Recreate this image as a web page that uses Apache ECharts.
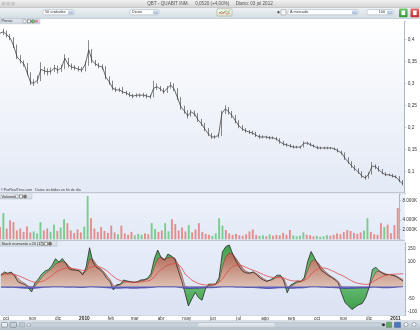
<!DOCTYPE html>
<html><head><meta charset="utf-8">
<script src="https://cdn.jsdelivr.net/npm/echarts@6.0.0/dist/echarts.min.js"></script>
<style>html,body{margin:0;padding:0;background:#fff;overflow:hidden}#chart{width:420px;height:330px}</style>
</head><body><div id="chart"></div>
<script>
// ---------------- data ----------------
const sampleStart = '2009-09-25';
const sampleStepDays = 4;
const axisStart = '2009-09-25';
const axisEnd = '2011-01-12';
const monthTickDates = ['2009-10-01','2009-11-01','2009-12-01','2010-01-01','2010-02-01','2010-03-01','2010-04-01','2010-05-01','2010-06-01','2010-07-01','2010-08-01','2010-09-01','2010-10-01','2010-11-01','2010-12-01','2011-01-01'];
const monthTickLabels = ['oct','nov','dic','2010','feb','mar','abr','may','jun','jul','ago','sep','oct','nov','dic','2011'];

const priceOpen = [.418,.414,.417,.410,.403,.385,.360,.351,.344,.323,
 .301,.301,.307,.332,.328,.326,.328,.335,.330,.335,
 .357,.342,.337,.335,.332,.330,.344,.376,.351,.344,
 .339,.337,.314,.303,.289,.285,.285,.280,.278,.273,
 .271,.273,.273,.273,.271,.269,.289,.292,.287,.280,
 .289,.296,.287,.267,.246,.237,.226,.235,.230,.217,
 .208,.196,.185,.178,.178,.182,.232,.242,.235,.226,
 .214,.203,.196,.192,.189,.187,.182,.178,.178,.178,
 .176,.176,.173,.167,.162,.160,.157,.155,.155,.155,
 .164,.164,.160,.157,.153,.153,.153,.153,.153,.151,
 .146,.142,.130,.121,.112,.105,.098,.089,.085,.094,
 .112,.110,.103,.096,.092,.092,.089,.087,.078];
const priceClose = [.414,.417,.410,.403,.385,.360,.351,.344,.323,.301,
 .301,.307,.332,.328,.326,.328,.335,.330,.335,.357,
 .342,.337,.335,.332,.330,.344,.376,.351,.344,.339,
 .337,.314,.303,.289,.285,.285,.280,.278,.273,.271,
 .273,.273,.273,.271,.269,.289,.292,.287,.280,.289,
 .296,.287,.267,.246,.237,.226,.235,.230,.217,.208,
 .196,.185,.178,.178,.182,.232,.242,.235,.226,.214,
 .203,.196,.192,.189,.187,.182,.178,.178,.178,.176,
 .176,.173,.167,.162,.160,.157,.155,.155,.155,.164,
 .164,.160,.157,.153,.153,.153,.153,.153,.151,.146,
 .142,.130,.121,.112,.105,.098,.089,.085,.094,.112,
 .110,.103,.096,.092,.092,.089,.087,.078,.071];
const priceLow = [.408,.410,.404,.398,.380,.355,.345,.338,.318,.296,
 .294,.299,.305,.320,.318,.320,.326,.322,.326,.332,
 .336,.331,.330,.327,.325,.327,.340,.346,.339,.334,
 .331,.309,.297,.284,.280,.280,.276,.273,.269,.266,
 .268,.268,.268,.266,.265,.268,.285,.282,.276,.278,
 .288,.282,.262,.240,.231,.220,.224,.225,.212,.203,
 .191,.180,.174,.174,.176,.180,.230,.229,.221,.209,
 .198,.192,.188,.185,.183,.178,.174,.175,.174,.172,
 .173,.170,.163,.158,.156,.154,.152,.152,.151,.154,
 .160,.157,.154,.150,.150,.150,.150,.150,.148,.143,
 .138,.126,.117,.108,.101,.094,.085,.081,.083,.092,
 .105,.099,.093,.089,.089,.086,.084,.075,.068];
const priceHigh = [.425,.424,.420,.412,.405,.388,.364,.352,.346,.325,
 .309,.318,.348,.338,.334,.336,.342,.340,.342,.366,
 .358,.345,.341,.339,.337,.350,.398,.378,.353,.346,
 .343,.339,.316,.306,.291,.290,.292,.283,.280,.276,
 .277,.277,.278,.276,.274,.306,.300,.294,.289,.294,
 .303,.300,.289,.269,.249,.239,.240,.238,.232,.219,
 .210,.198,.187,.182,.186,.238,.250,.246,.237,.228,
 .216,.205,.198,.194,.192,.190,.184,.182,.181,.180,
 .179,.178,.175,.169,.164,.162,.159,.158,.158,.168,
 .167,.165,.161,.158,.156,.156,.156,.155,.154,.152,
 .147,.143,.132,.123,.114,.107,.100,.091,.098,.121,
 .116,.112,.105,.098,.095,.094,.091,.089,.080];
const volumeK = [2500,5400,2200,3900,3500,1800,2200,1500,2600,1400,
 1600,1200,3500,1800,2200,1500,3000,1700,2400,4100,
 3300,1800,1300,2000,1400,2600,8900,4300,2200,1500,
 2500,1700,1300,2800,1400,1000,2800,1200,900,1500,
 800,1100,900,1200,1000,3300,2100,1500,1800,3300,
 1600,4100,3100,1800,2400,1600,2900,1400,2000,3300,
 1500,1100,900,700,1200,4300,2800,1900,1200,900,
 1100,800,700,1000,1600,2000,900,700,800,600,
 1000,700,900,800,1300,900,1900,800,600,700,
 1400,900,800,600,700,500,600,800,700,900,
 1200,1000,1500,1900,1700,1300,1100,1400,1800,4300,
 1500,1000,900,3300,2500,3000,1200,2900,6420];
const smiMain = [46,58,53,58,42,19,12,8,-5,-22,
 15,30,50,62,68,85,111,98,112,94,
 70,66,66,62,46,78,155,97,76,68,
 55,33,20,-14,7,9,26,22,19,16,
 19,26,27,33,50,110,146,115,105,130,
 122,110,65,24,-25,-78,-50,-24,-45,-55,
 -10,10,9,10,35,139,160,166,130,100,
 78,60,54,53,59,48,34,26,20,26,
 34,45,45,22,-25,6,13,22,20,36,
 100,140,115,88,64,55,44,36,27,14,
 -30,-65,-78,-92,-82,-73,-68,-45,-5,68,
 77,62,52,47,48,45,40,30,22];
const smiSmooth = [44,50,52,54,48,32,20,12,2,-3,
 2,18,36,52,62,72,90,96,100,96,
 80,70,66,63,54,60,110,108,88,74,
 62,45,28,2,4,6,16,20,20,18,
 18,22,25,29,40,78,112,118,110,114,
 118,114,88,50,0,-4,-4,-3,-4,-4,
 -3,2,4,8,20,80,120,135,130,112,
 92,72,60,55,56,52,42,32,24,24,
 29,38,42,32,-2,0,8,16,19,27,
 65,100,106,96,78,62,50,40,31,20,
 -3,-4,-4,-4,-4,-4,-4,-4,-2,30,
 58,62,56,50,48,46,42,35,28];
const smiSignal = [50,50,50,50,48,44,38,32,26,20,
 17,17,20,26,34,44,56,64,70,74,
 74,72,70,68,64,64,76,80,80,78,
 72,64,52,40,30,24,20,18,17,17,
 17,18,20,22,26,38,56,68,78,86,
 90,92,88,76,50,38,26,18,12,8,
 6,6,8,10,16,30,50,68,80,86,
 86,82,76,70,65,60,54,48,42,38,
 36,36,36,34,28,24,22,22,22,24,
 34,50,62,70,74,74,70,64,58,50,
 45,38,30,22,16,12,10,8,10,18,
 26,34,40,45,48,49,50,50,51.381];
const smiLow = [-3,-3,-4,-3,-4,-5,-6,-7,-7,-8,
 -7,-6,-4,-3,-3,-2,-2,-2,-2,-3,
 -3,-3,-3,-4,-4,-3,-2,-2,-3,-3,
 -4,-5,-6,-7,-7,-7,-6,-6,-7,-7,
 -7,-6,-6,-5,-4,-3,-2,-2,-2,-2,
 -2,-2,-3,-5,-7,-8,-8,-7,-7,-6,
 -5,-5,-5,-4,-3,-2,-2,-2,-2,-3,
 -3,-3,-4,-4,-4,-5,-6,-7,-8,-8,
 -7,-6,-5,-5,-6,-7,-7,-6,-6,-5,
 -3,-2,-2,-2,-3,-3,-4,-4,-5,-6,
 -7,-8,-8,-7,-7,-6,-6,-6,-5,-3,
 -3,-4,-5,-5,-5,-4,-3,-2,-1.2547];
const priceAxisLabels = [0.1,0.15,0.2,0.25,0.3,0.35,0.4];
const volumeAxisLabels = [2000,4000,8000];
const smiAxisLabels = [150,100,-50,-100];

// ---------------- build ----------------
const DAY = 86400000;
const t0 = Date.parse(sampleStart);
const dates = priceClose.map((_, i) => t0 + i * sampleStepDays * DAY);
const monthTs = monthTickDates.map(d => Date.parse(d));
const FONT = 'Liberation Sans';

function fmtMonth(v) {
  let best = -1, bd = Infinity;
  monthTs.forEach((t, k) => { const d = Math.abs(t - v); if (d < bd) { bd = d; best = k; } });
  if (best < 0 || bd > 2 * DAY) return '';
  const s = monthTickLabels[best];
  return /^\d{4}$/.test(s) ? '{y|' + s + '}' : s;
}
const near = (v, arr) => arr.some(a => Math.abs(a - v) < 1e-6);

function lg(c1, c2) { return {type:'linear', x:0, y:0, x2:0, y2:1, colorStops:[{offset:0,color:c1},{offset:1,color:c2}]}; }
function R(x, y, w, h, fill, ex) { ex = ex || {}; return {type:'rect', shape:{x, y, width:w, height:h, r:ex.r||0}, style:Object.assign({fill}, ex.style||{}), z:ex.z!=null?ex.z:-1, silent:true}; }
function T(text, x, y, size, fill, ex) { ex = ex || {}; return {type:'text', z:ex.z||60, silent:true, style:Object.assign({text, x, y, fill, font:(ex.fw||'normal')+' '+size+'px "'+FONT+'"', verticalAlign:'middle', align:'left'}, ex.style||{})}; }
function C(cx, cy, r, fill, stroke, z) { return {type:'circle', shape:{cx, cy, r}, style:{fill, stroke, lineWidth:0.4}, z:z||60, silent:true}; }
function dropBox(x, y, w, h, label, alignRight) {
  return [
    R(x, y, w, h, '#ffffff', {r:1.5, z:55, style:{stroke:'#9aa9b6', lineWidth:0.5}}),
    R(x + w - 6, y + 0.6, 5.4, h - 1.2, lg('#d6e3f1','#9fb8d4'), {r:1.2, z:56}),
    T(label, alignRight ? x + w - 8 : x + 2, y + h / 2, 3.8, '#333', alignRight ? {style:{align:'right'}} : null)
  ];
}
function tab(x, y, w, label) {
  const els = [R(x, y, w, 5, lg('#e8edf1','#cdd6de'), {z:55, style:{stroke:'#a9b5bf', lineWidth:0.4}}), T(label, x + 1.5, y + 2.6, 3.8, '#333')];
  const ix = x + w - 17;
  els.push(R(ix, y + 1, 3, 3, '#ffffff', {z:57, style:{stroke:'#666', lineWidth:0.4}}));
  els.push(R(ix + 4.5, y + 1, 3, 3, '#ffffff', {z:57, style:{stroke:'#444', lineWidth:0.5}}));
  els.push(C(ix + 10, y + 2.5, 1.6, '#777', '#444', 57));
  return els;
}

const graphics = [].concat(
  [R(0, 18.5, 405, 173.5, lg('#ffffff','#e3eaf5'))],
  [R(0, 193.3, 405, 46.5, lg('#edf2fa','#e3eaf6'))],
  [R(0, 240.8, 405, 74.4, lg('#e7edf9','#dbe3f4'))],
  [R(0, 191.9, 405, 1.4, '#bfc8d1', {z:1})],
  [R(0, 239.7, 405, 1.2, '#bfc8d1', {z:1})],
  [R(0, 0, 420, 7.2, lg('#f1f1f1','#d5d5d5'), {z:50})],
  [R(0, 7.0, 420, 0.4, '#9d9d9d', {z:51})],
  [C(3.5, 3.6, 1.6, '#d0d0d0', '#a5a5a5'), C(8.2, 3.6, 1.6, '#d0d0d0', '#a5a5a5'), C(12.9, 3.6, 1.6, '#d0d0d0', '#a5a5a5')],
  [T('QBT - QUABIT INM.     0,0520 (+4,00%)     Diario: 03 jul 2012', 210, 3.7, 4.6, '#555', {style:{align:'center'}})],
  [R(0, 7.4, 420, 11.1, lg('#eef2f5','#d3dce3'), {z:50})],
  [R(0, 18.3, 420, 0.4, '#a6b2bc', {z:51})],
  dropBox(43, 9.6, 31, 5.2, '50 unidades'),
  dropBox(130, 9.6, 29, 5.2, 'Diario'),
  [R(217, 8.8, 15, 7.2, lg('#fbfbf2','#e4e6d6'), {z:55, r:1, style:{stroke:'#8a9a7a', lineWidth:0.5}}),
   {type:'polyline', shape:{points:[[219,14],[221.5,11.5],[223.5,13],[226,10.5],[228,12.5],[230,10]]}, style:{stroke:'#3a9a3a', lineWidth:0.6, fill:null}, z:57, silent:true},
   {type:'polyline', shape:{points:[[219,12],[222,14],[224.5,12.2],[227,14.3],[230,13]]}, style:{stroke:'#c83a3a', lineWidth:0.6, fill:null}, z:57, silent:true}],
  [C(278.5, 12.2, 0.9, '#555', '#333'), R(281, 9.6, 5, 5.4, '#f7f7f7', {z:56, style:{stroke:'#777', lineWidth:0.4}})],
  dropBox(288, 9.6, 70, 5.2, 'A mercado'),
  dropBox(367, 9.6, 26, 5.2, '100', true),
  [R(399, 8.4, 8.6, 8.8, lg('#6cc76a','#2f9a36'), {z:55, r:1}), R(401.5, 10.5, 3.6, 4.6, '#ffffff', {z:56}),
   R(410.5, 8.4, 8.6, 8.8, lg('#ee6b6b','#c42a2a'), {z:55, r:1}), R(413, 10.5, 3.6, 4.6, '#ffffff', {z:56})],
  tab(0, 18.8, 40, 'Precio'),
  [C(36.5, 21.3, 1.3, '#e58ab0', '#b05a80', 58), C(33.3, 21.3, 1.3, '#8fd08f', '#4a9a4a', 58)],
  tab(0, 194, 32, 'Volumen'),
  tab(0, 241.2, 57, 'Stoch momento v.20 (13)'),
  [T('©ProRealTime.com   Datos recibidos en fin de día', 1, 189.6, 3.6, '#444', {style:{fontStyle:'italic'}})],
  [R(0, 320.6, 420, 9.4, lg('#dbe3e9','#b3c0ca'), {z:50}), R(0, 320.4, 420, 0.4, '#9aa7b1', {z:51})],
  [R(1.5, 322.5, 6, 4.5, '#e9eef2', {z:55, r:1, style:{stroke:'#5a6570', lineWidth:0.5}}),
   R(10, 322.3, 6.5, 5, '#c9d1d8', {z:55, r:1, style:{stroke:'#5a6570', lineWidth:0.5}}),
   R(19.5, 322.5, 5, 4.5, '#c0c8cf', {z:55, style:{stroke:'#8a959f', lineWidth:0.4}}),
   C(28.7, 324.8, 1.6, '#eef2f5', '#5a6570'),
   R(31, 322.6, 351, 4.6, '#c6d1d9', {z:54, r:2, style:{stroke:'#a3b0ba', lineWidth:0.4}}),
   R(198, 322.9, 77, 4.0, lg('#e9eef2','#d0d9e0'), {z:55, r:2}),
   C(383.5, 324.8, 1.3, '#333', '#222'),
   R(386.5, 322.2, 5, 5.2, '#6aa86a', {z:55, style:{stroke:'#3a6a3a', lineWidth:0.4}}),
   R(394.5, 322.2, 6, 5.2, '#4a78c0', {z:55, style:{stroke:'#2a4a80', lineWidth:0.4}}),
   C(406, 324.4, 2.0, '#f2f5f7', '#4a5560'), C(414, 324.4, 2.0, '#f2f5f7', '#4a5560')]
);

const areaBrown = {type:'linear', x:0, y:0, x2:0, y2:1, colorStops:[{offset:0,color:'#b06752'},{offset:1,color:'#dfc2b6'}]};
const areaGreen = {type:'linear', x:0, y:0, x2:0, y2:1, colorStops:[{offset:0,color:'#3f9e4d'},{offset:0.5,color:'#74c47f'},{offset:1,color:'#3f9e4d'}]};

const xAxes = [0,1,2].map(k => ({
  type:'value', gridIndex:k, min:Date.parse(axisStart), max:Date.parse(axisEnd),
  show: k === 2, scale:true,
  axisLine:{show:true, onZero:false, lineStyle:{color:'#b9c3cc', width:0.6}},
  axisTick:{show:false}, splitLine:{show:false},
  axisLabel:{show:k === 2, customValues:monthTs, formatter:fmtMonth, fontSize:4.6, color:'#333', margin:1.5, hideOverlap:false,
    fontFamily:FONT, rich:{y:{fontWeight:'bold', fontSize:4.8, color:'#222', fontFamily:FONT}}}
}));

const yCommon = {position:'right', splitLine:{show:false}, axisLine:{show:true, lineStyle:{color:'#8f9ba6', width:0.7}},
  axisTick:{show:true, length:1.5, lineStyle:{color:'#8f9ba6', width:0.5}}};

const option = {
  animation:false,
  backgroundColor:'#ffffff',
  textStyle:{fontFamily:FONT},
  graphic:{elements:graphics},
  grid:[
    {left:0, right:15, top:21.7, height:171.6},
    {left:0, right:15, top:194, height:45.2},
    {left:0, right:15, top:242.75, height:72.25}
  ],
  xAxis:xAxes,
  yAxis:[
    Object.assign({type:'value', gridIndex:0, min:0.05, max:0.44, interval:0.05,
      axisLabel:{fontSize:4.8, color:'#333', margin:3, fontFamily:FONT,
        formatter:v => near(v, priceAxisLabels) ? String(Math.round(v*100)/100).replace('.', ',') : ''}}, yCommon),
    Object.assign({type:'value', gridIndex:1, min:0, max:9300, interval:2000,
      axisLabel:{fontSize:4.6, color:'#333', margin:3, fontFamily:FONT,
        formatter:v => near(v, volumeAxisLabels) ? (v/1000).toFixed(3) + 'K' : ''}}, yCommon),
    Object.assign({type:'value', gridIndex:2, min:-114, max:175, splitNumber:6,
      axisLabel:{fontSize:4.6, color:'#333', margin:3, fontFamily:FONT,
        formatter:v => near(v, smiAxisLabels) ? String(v) : ''}}, yCommon)
  ],
  series:[
    {type:'line', name:'Cierre', xAxisIndex:0, yAxisIndex:0, showSymbol:false, z:1,
     data:dates.map((t,i) => [t, priceClose[i]]), lineStyle:{width:0.9, color:'#5c5c5c'}},
    {type:'candlestick', name:'Precio', xAxisIndex:0, yAxisIndex:0,
     data:dates.map((t,i) => [t, priceOpen[i], priceClose[i], priceLow[i], priceHigh[i]]),
     encode:{x:0, y:[1,2,3,4]}, barWidth:1.2,
     itemStyle:{color:'#777777', color0:'#4a4a4a', borderColor:'#3f3f3f', borderColor0:'#333333', borderWidth:0.6}},
    {type:'bar', name:'Volumen', xAxisIndex:1, yAxisIndex:1, barWidth:1.9,
     data:dates.map((t,i) => [t, volumeK[i]]),
     itemStyle:{color:p => priceClose[p.dataIndex] >= priceOpen[p.dataIndex] ? '#79cc8d' : '#e28e8e'},
     markLine:{silent:true, symbol:'none', lineStyle:{opacity:0},
       label:{position:'end', distance:1, formatter:p => (p.value/1000).toFixed(3) + 'K', fontSize:4.6, color:'#222',
         backgroundColor:'#f1e84c', padding:[1,1.5,0.5,1.5], fontFamily:FONT},
       data:[{yAxis:volumeK[volumeK.length-1]}]}},
    {type:'line', name:'SMI area', xAxisIndex:2, yAxisIndex:2, showSymbol:false, z:2,
     data:dates.map((t,i) => [t, smiMain[i]]), lineStyle:{width:0}, areaStyle:{color:areaGreen, opacity:1}},
    {type:'line', name:'SMI suavizado', xAxisIndex:2, yAxisIndex:2, showSymbol:false, z:3,
     data:dates.map((t,i) => [t, smiSmooth[i]]), lineStyle:{width:0.6, color:'#8a3e2c'}, areaStyle:{color:areaBrown, opacity:1}},
    {type:'line', name:'SMI', xAxisIndex:2, yAxisIndex:2, showSymbol:false, z:4,
     data:dates.map((t,i) => [t, smiMain[i]]), lineStyle:{width:0.8, color:'#2b2b2b'}},
    {type:'line', name:'Señal', xAxisIndex:2, yAxisIndex:2, showSymbol:false, z:5,
     data:dates.map((t,i) => [t, smiSignal[i]]), lineStyle:{width:0.8, color:'#e04a4a'},
     markLine:{silent:true, symbol:'none', lineStyle:{opacity:0},
       label:{position:'end', distance:1, formatter:p => String(p.value).replace('.', ','), fontSize:4.4, color:'#222',
         backgroundColor:'#f4f4f4', borderColor:'#9a9a9a', borderWidth:0.4, padding:[1,1,0.5,1], fontFamily:FONT},
       data:[{yAxis:smiSignal[smiSignal.length-1]}]}},
    {type:'line', name:'Bajo', xAxisIndex:2, yAxisIndex:2, showSymbol:false, z:6,
     data:dates.map((t,i) => [t, smiLow[i]]), lineStyle:{width:0.6, color:'#2e2a8c'}, areaStyle:{color:'#6c64c6', opacity:1},
     markLine:{silent:true, symbol:'none', lineStyle:{opacity:0},
       label:{position:'end', distance:1, formatter:p => String(p.value).replace('.', ','), fontSize:4.4, color:'#222',
         backgroundColor:'#e6ecf6', borderColor:'#8a96a6', borderWidth:0.4, padding:[1,1,0.5,1], fontFamily:FONT},
       data:[{yAxis:smiLow[smiLow.length-1]}]}}
  ]
};

const chart = echarts.init(document.getElementById('chart'), null, {renderer:'canvas', width:420, height:330, devicePixelRatio:1});
chart.setOption(option);
</script>
</body></html>
